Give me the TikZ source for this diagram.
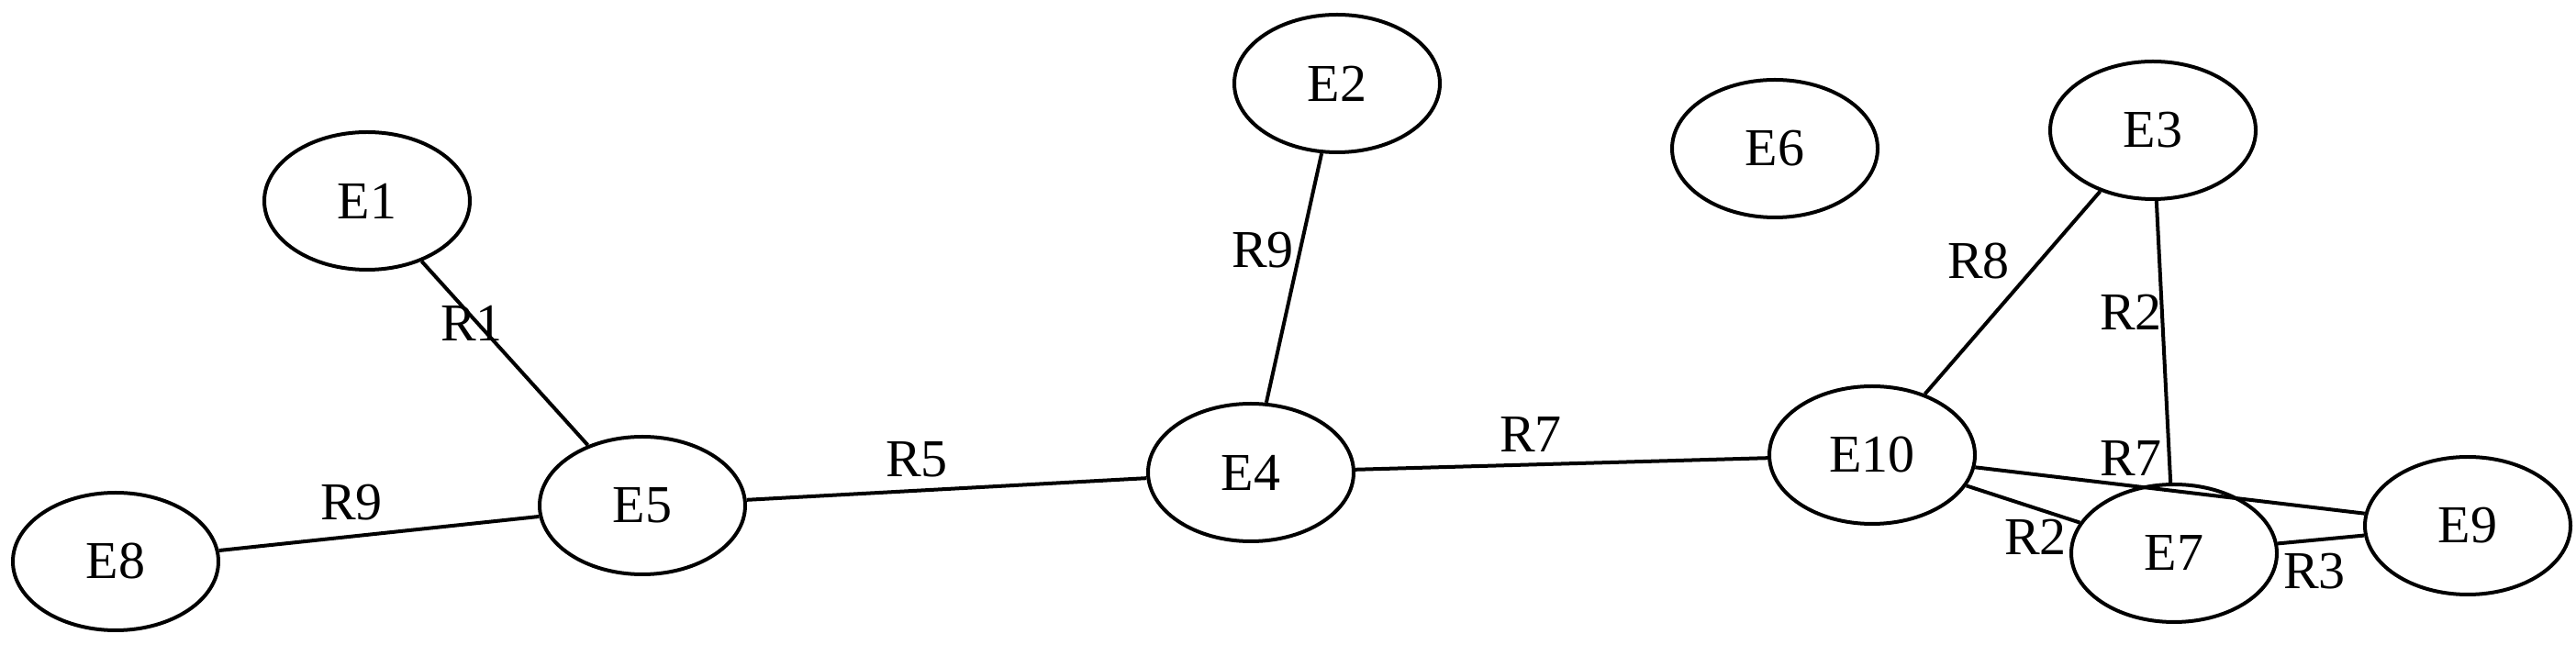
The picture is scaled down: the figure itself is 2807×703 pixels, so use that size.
\documentclass[tikz,border=0pt]{standalone}
\usepackage{fontspec}
\setmainfont{Liberation Serif}
\usetikzlibrary{shapes.geometric}
\begin{document}
\begin{tikzpicture}[x=0.25pt,y=-0.25pt,
  ent/.style={draw, ellipse, line width=1pt, minimum width=56pt, minimum height=37.5pt, inner sep=0pt, font=\fontsize{14.5}{17}\selectfont},
  rel/.style={inner sep=0pt, font=\fontsize{14.5}{17}\selectfont},
  link/.style={line width=1pt}]
\useasboundingbox (0,0) rectangle (2807,703);
\node[ent] (E1) at (400,219) {E1};
\node[ent] (E2) at (1457,91) {E2};
\node[ent] (E6) at (1934,162) {E6};
\node[ent] (E3) at (2346,142) {E3};
\node[ent] (E5) at (700,551) {E5};
\node[ent] (E4) at (1363,515) {E4};
\node[ent] (E10) at (2040,496) {E10};
\node[ent] (E8) at (126,612) {E8};
\node[ent] (E7) at (2369,603) {E7};
\node[ent] (E9) at (2689,573) {E9};
\draw[link] (E1) -- (E5);
\draw[link] (E8) -- (E5);
\draw[link] (E5) -- (E4);
\draw[link] (E2) -- (E4);
\draw[link] (E4) -- (E10);
\draw[link] (E10) -- (E3);
\draw[link] (E3) -- (E7);
\draw[link] (E10) -- (E9);
\draw[link] (E10) -- (E7);
\draw[link] (E7) -- (E9);
\node[rel] (l1) at (514,352) {R1};
\node[rel] (l2) at (383,548) {R9};
\node[rel] (l3) at (999,501) {R5};
\node[rel] (l4) at (1376,273) {R9};
\node[rel] (l5) at (1668,474) {R7};
\node[rel] (l6) at (2156,285) {R8};
\node[rel] (l7) at (2322,340) {R2};
\node[rel] (l8) at (2322,500) {R7};
\node[rel] (l9) at (2218,585) {R2};
\node[rel] (l10) at (2522,623) {R3};
\end{tikzpicture}
\end{document}
